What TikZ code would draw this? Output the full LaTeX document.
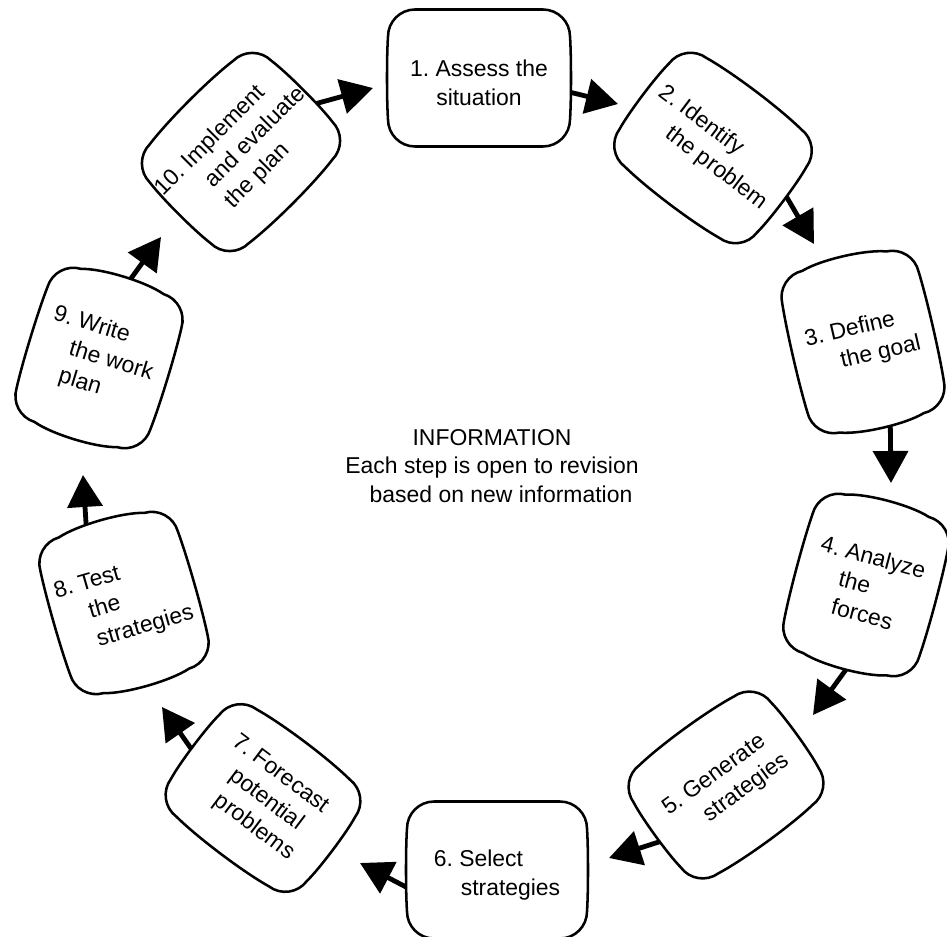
\documentclass[tikz,border=0pt]{standalone}
\usepackage{fontspec}
\setmainfont{Liberation Sans}
\usetikzlibrary{arrows.meta}
\frenchspacing

\newdimen\pxu
\pxu=0.75pt
\newcommand{\ind}[1]{\hspace*{#1\pxu}}

\pgfdeclarelayer{background}
\pgfsetlayers{background,main}

% Rounded "pillow" outline: centre (#1), angle #2, size #3 x #4,
% corner radius #5, bulge of the long edges #6, bulge of the short edges #7
\newcommand{\pillowshape}[7]{%
  \pgfmathsetmacro\ha{#3/2}%
  \pgfmathsetmacro\hb{#4/2}%
  \pgfmathsetmacro\rr{#5}%
  \pgfmathsetmacro\dt{#6*4/3}%
  \pgfmathsetmacro\ds{#7*4/3}%
  \draw[boxline, shift={(#1)}, rotate=#2]
    ({-\ha+\rr},\hb) .. controls ({-\ha/3},{\hb+\dt}) and ({\ha/3},{\hb+\dt}) .. ({\ha-\rr},\hb)
    .. controls ({\ha-0.45*\rr},\hb) and (\ha,{\hb-0.45*\rr}) .. (\ha,{\hb-\rr})
    .. controls ({\ha+\ds},{\hb/3}) and ({\ha+\ds},{-\hb/3}) .. (\ha,{-\hb+\rr})
    .. controls (\ha,{-\hb+0.45*\rr}) and ({\ha-0.45*\rr},-\hb) .. ({\ha-\rr},-\hb)
    .. controls ({\ha/3},{-\hb-\dt}) and ({-\ha/3},{-\hb-\dt}) .. ({-\ha+\rr},-\hb)
    .. controls ({-\ha+0.45*\rr},-\hb) and (-\ha,{-\hb+0.45*\rr}) .. (-\ha,{-\hb+\rr})
    .. controls ({-\ha-\ds},{-\hb/3}) and ({-\ha-\ds},{\hb/3}) .. (-\ha,{\hb-\rr})
    .. controls (-\ha,{\hb-0.45*\rr}) and ({-\ha+0.45*\rr},\hb) .. cycle;
}

% One step of the cycle: name, centre, angle, width, height, bulges, text, extra node options
\newcommand{\stepitem}[9]{%
  \pillowshape{#2}{#3}{#4}{#5}{27}{#6}{#7}
  \node[steptext, rotate=#3, minimum width=#4\pxu, minimum height=#5\pxu, #9] (#1) at (#2) {#8};
}

\tikzset{
  boxline/.style={line width=1.9pt, fill=white, line join=round},
  steptext/.style={shape=rectangle, inner sep=0pt, align=left,
    font=\fontsize{17.2}{21.8}\selectfont},
  flow/.style={line width=3.6pt, -{Triangle[length=24pt,width=26pt]}},
}

\begin{document}
\begin{tikzpicture}[x=0.75pt, y=-0.75pt]
\useasboundingbox (0,0) rectangle (947,937);

\stepitem{b1}{479,78}{0}{182}{137}{0}{1}{\hfil 1. Assess the\hfil\\\hfil situation\hfil}{yshift=-3.5pt}
\stepitem{b2}{713,148}{-37}{172}{136}{3}{2}{2. Identify\\\ind{30}the problem}{}
\stepitem{b3}{863,342}{13}{140}{166}{5}{1.5}{3. Define\\\ind{30}the goal}{}
\stepitem{b4}{866,585}{-15}{140}{164}{5}{1.5}{4. Analyze\\\ind{26}the\\\ind{26}forces}{}
\stepitem{b5}{726,785}{36}{170}{134}{3}{2}{5. Generate\\\ind{29}strategies}{}
\stepitem{b6}{497,870}{0}{180}{137}{0}{1}{6. Select\\\ind{27}strategies}{yshift=-3.5pt}
\stepitem{b7}{263,798}{-37}{170}{134}{3}{2}{7. Forecast\\\ind{18}potential\\\ind{21}problems}{}
\stepitem{b8}{124,603}{16}{143}{162}{5}{1.5}{8. Test\\\ind{28}the\\\ind{28}strategies}{}
\stepitem{b9}{99,358}{-17}{140}{160}{5}{1.5}{9. Write\\\ind{25}the work\\\ind{23}plan}{}
\stepitem{b10}{241,152}{45}{172}{140}{3}{2}{10. Implement\\\ind{41}and evaluate\\\ind{40}the plan}{}

\node[align=center, font=\fontsize{17.2}{21.3}\selectfont] (info) at (492,466)
  {INFORMATION\\Each step is open to revision\\\ind{18}based on new information};

% free ends of the connectors
\coordinate (t1) at (373,88);
\coordinate (t2) at (618,104);
\coordinate (t3) at (814,244);
\coordinate (t4) at (891,483);
\coordinate (t5) at (813,715);
\coordinate (t6) at (609,858);
\coordinate (t7) at (360,863);
\coordinate (t8) at (162,707);
\coordinate (t9) at (83,475);
\coordinate (t10) at (161,237);

\begin{pgfonlayer}{background}
  \draw[flow] (b10.-12) -- (t1);
  \draw[flow] (b1.-6) -- (t2);
  \draw[flow] (b2.4) -- (t3);
  \draw[flow] (b3.-84) -- (t4);
  \draw[flow] (b4.-87) -- (t5);
  \draw[flow] (b5.-175) -- (t6);
  \draw[flow] (b6.-172) -- (t7);
  \draw[flow] (b7.183) -- (t8);
  \draw[flow] (b8.101) -- (t9);
  \draw[flow] (b9.86) -- (t10);
\end{pgfonlayer}
\end{tikzpicture}
\end{document}
